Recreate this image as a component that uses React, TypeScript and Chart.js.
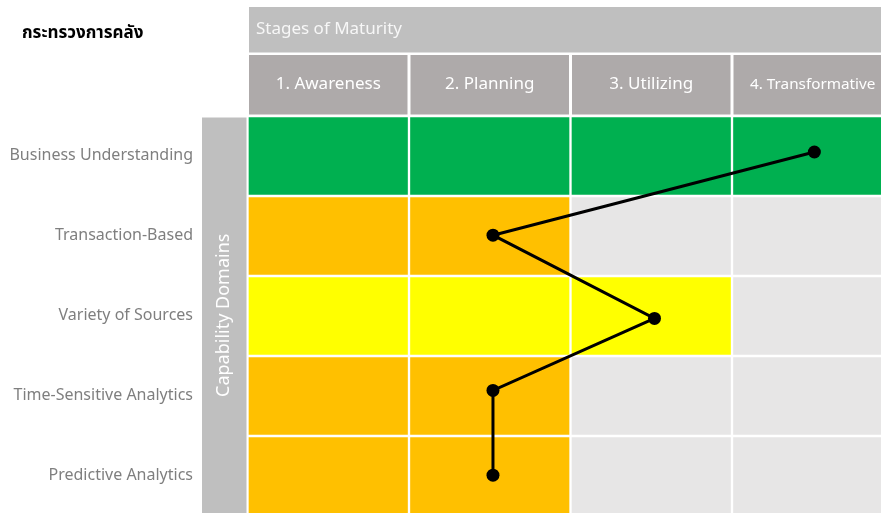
import React, { useEffect, useRef } from 'react';
import { Chart, registerables } from 'chart.js';

Chart.register(...registerables);

const pageTitle = 'กระทรวงการคลัง';
const stagesTitle = 'Stages of Maturity';
const domainsTitle = 'Capability Domains';
const stages = ['1. Awareness', '2. Planning', '3. Utilizing', '4. Transformative'];
const domains = [
  'Business Understanding',
  'Transaction-Based',
  'Variety of Sources',
  'Time-Sensitive Analytics',
  'Predictive Analytics',
];
// highest stage reached by each domain (cells up to it are filled)
const reachedStage = [4, 2, 3, 2, 2];
const domainLevel = ['green', 'orange', 'yellow', 'orange', 'orange'];
// current position of each domain (stage, domain row)
const pathStage = [4.01, 2.02, 3.02, 2.02, 2.02];
const pathDomain = [0.95, 1.99, 3.03, 3.93, 4.99];

const levelColors: Record<string, string> = {
  green: '#00b050',
  orange: '#ffc000',
  yellow: '#ffff00',
};
const emptyColor = '#e7e6e6';
const FONT = '"Noto Sans Thai", "Open Sans", "Noto Sans", sans-serif';

const decorPlugin = {
  id: 'decor',
  beforeDatasetsDraw(chart: any) {
    const { ctx, scales, width } = chart;
    const xs = scales.x;
    const ys = scales.y;
    ctx.save();
    // page title
    ctx.fillStyle = '#000000';
    ctx.font = `bold 17px ${FONT}`;
    ctx.textAlign = 'left';
    ctx.textBaseline = 'middle';
    ctx.fillText(pageTitle, 22, 35);

    // stages header bar
    const gridLeft = xs.getPixelForValue(0.5) + 1.5;
    ctx.fillStyle = '#bfbfbf';
    ctx.fillRect(gridLeft, 7, width - gridLeft, 45.5);
    ctx.fillStyle = '#f7f7f7';
    ctx.font = `17px ${FONT}`;
    ctx.fillText(stagesTitle, gridLeft + 7, 31);

    // stage column headers
    stages.forEach((s, i) => {
      const l = xs.getPixelForValue(i + 0.5) + 1.5;
      const r = xs.getPixelForValue(i + 1.5) - 1.5;
      ctx.fillStyle = '#aeaaaa';
      ctx.fillRect(l, 55, r - l, 59.5);
      let size = 17;
      ctx.font = `${size}px ${FONT}`;
      const avail = Math.min(r, width) - l - 22;
      const w = ctx.measureText(s).width;
      if (w > avail) {
        size = (size * avail) / w;
        ctx.font = `${size}px ${FONT}`;
      }
      ctx.fillStyle = '#ffffff';
      ctx.textAlign = 'center';
      ctx.fillText(s, xs.getPixelForValue(i + 1), 86);
    });

    // capability domains bar
    const top = ys.getPixelForValue(0.5) + 1.5;
    const bottom = chart.height;
    ctx.fillStyle = '#bfbfbf';
    ctx.fillRect(202, top, gridLeft - 2.5 - 202, bottom - top);
    ctx.save();
    ctx.translate((202 + gridLeft - 2.5) / 2 + 1, (top + bottom) / 2);
    ctx.rotate(-Math.PI / 2);
    ctx.fillStyle = '#ffffff';
    ctx.font = `18px ${FONT}`;
    ctx.textAlign = 'center';
    ctx.textBaseline = 'middle';
    ctx.fillText(domainsTitle, 0, 0);
    ctx.restore();

    // domain labels
    ctx.fillStyle = '#7f7f7f';
    ctx.font = `16px ${FONT}`;
    ctx.textAlign = 'right';
    ctx.textBaseline = 'middle';
    domains.forEach((d, i) => {
      ctx.fillText(d, 193, ys.getPixelForValue(i + 1) + 1);
    });
    ctx.restore();
  },
};

export default function App() {
  const ref = useRef<HTMLCanvasElement | null>(null);
  useEffect(() => {
    if (!ref.current) return;
    const cellSets = domains.map((d, r) => ({
      type: 'bar' as const,
      label: d,
      order: 1,
      data: stages.map((_, c) => ({ x: c + 1, y: [r + 0.5, r + 1.5] })),
      backgroundColor: stages.map((_, c) =>
        c < reachedStage[r] ? levelColors[domainLevel[r]] : emptyColor
      ),
      borderColor: '#ffffff',
      borderWidth: 1.5,
      borderSkipped: false,
      grouped: false,
      barPercentage: 1,
      categoryPercentage: 1,
    }));
    const chart = new Chart(ref.current, {
      type: 'bar',
      data: {
        datasets: [
          {
            type: 'line' as const,
            label: 'Current position',
            order: 0,
            data: pathStage.map((x, i) => ({ x, y: pathDomain[i] })),
            borderColor: '#000000',
            borderWidth: 3,
            pointRadius: 6.5,
            pointBackgroundColor: '#000000',
            pointBorderColor: '#000000',
            pointBorderWidth: 0,
            tension: 0,
          } as any,
          ...cellSets,
        ],
      },
      options: {
        animation: false,
        responsive: false,
        devicePixelRatio: 1,
        layout: { autoPadding: false, padding: { left: 247.5, top: 116, right: 0, bottom: 0 } },
        plugins: { legend: { display: false }, tooltip: { enabled: false } },
        scales: {
          x: {
            type: 'linear',
            display: false,
            offset: false,
            min: 0.5,
            max: 4.4226,
            grid: { offset: false },
            afterBuildTicks: (scale: any) => {
              scale.ticks = stages.map((_, i) => ({ value: i + 1 }));
            },
          },
          y: {
            type: 'linear',
            display: false,
            reverse: true,
            offset: false,
            min: 0.5,
            max: 5.4625,
          },
        },
      },
      plugins: [decorPlugin],
    });
    return () => chart.destroy();
  }, []);
  return (
    <div style={{ position: 'fixed', left: 0, top: 0, width: 881, height: 513, background: '#ffffff' }}>
      <canvas ref={ref} width={881} height={513} style={{ display: 'block' }} />
    </div>
  );
}
